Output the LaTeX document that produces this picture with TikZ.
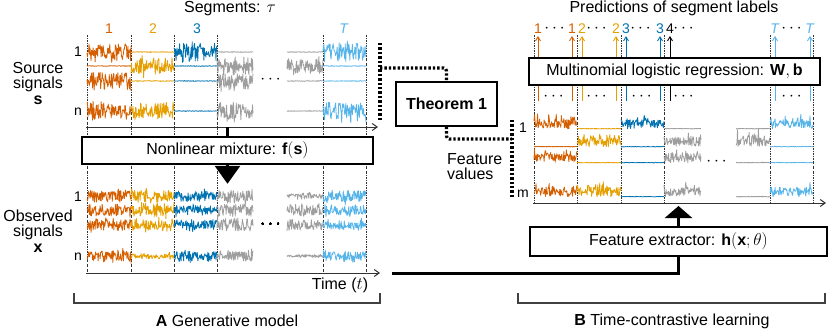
\documentclass[tikz,border=0pt]{standalone}
\usepackage{amsmath,amssymb}
\usepackage{fontspec}
\setmainfont{Liberation Sans}
\usetikzlibrary{arrows.meta,calc,positioning}
\definecolor{segone}{RGB}{213,94,0}
\definecolor{segtwo}{RGB}{230,159,0}
\definecolor{segthree}{RGB}{0,114,178}
\definecolor{seggray}{RGB}{158,158,158}
\definecolor{segT}{RGB}{86,180,233}

% noisy trace: x0, x1, y, amplitude, colour
\newcommand\trace[5]{%
  \pgfmathtruncatemacro\ns{2*(#2-#1)}%
  \draw[#5, line width=0.8pt, line join=round]
    plot[domain=#1:#2, samples=\ns] (\x, {#3 + #4*(0.5*rand + 0.5*rand*rand*rand)});
}
% one-sided feature trace: x0, x1, baseline, amplitude, colour
\newcommand\feat[5]{%
  \pgfmathtruncatemacro\ns{2*(#2-#1)}%
  \draw[#5, line width=0.8pt, line join=round]
    plot[domain=#1:#2, samples=\ns] (\x, {#3 - #4*(0.45*abs(rand) + 0.55*abs(rand*rand*rand))});
}

\begin{document}
\begin{tikzpicture}[x=1pt, y=-1pt,
  every node/.style={font=\fontsize{16}{18}\selectfont, inner sep=0pt},
  small/.style={font=\fontsize{14}{16}\selectfont},
  seglbl/.style={font=\fontsize{14}{16}\selectfont},
  box/.style={draw, line width=1.6pt, fill=white, minimum width=#1, minimum height=27pt},
  segline/.style={black!80, line width=0.5pt, dash pattern=on 2pt off 1.2pt on 0.5pt off 1.2pt},
  axis/.style={black!80, line width=1pt, -{Straight Barb[length=5pt,width=7pt]}},
  fat/.style={line width=3pt},
  thmlink/.style={line width=3.2pt, dash pattern=on 2.4pt off 2pt},
  bracket/.style={black!75, line width=1.4pt},
  upar/.style={line width=0.9pt, -{Straight Barb[length=4pt,width=5pt]}}]
  \useasboundingbox (0,0) rectangle (830,329);
  \pgfmathsetseed{11}

  % ---------- A: generative model ----------
  \foreach \xs in {87,131,174,217,323,366}
    \draw[segline] (\xs,35) -- (\xs,273);

  \node (segtitle) at (230,9) {Segments: $\tau$};
  \node[seglbl, text=segone] (sa) at (109,29) {1};
  \node[seglbl, text=segtwo] (sb) at (153,29) {2};
  \node[seglbl, text=segthree] (sc) at (197,29) {3};
  \node[seglbl, text=segT] (sT) at (344,29) {\textit{T}};

  \node[align=center, font=\fontsize{16}{15}\selectfont] (srclbl) at (38,83) {Source\\signals\\[1pt]$\mathbf{s}$};
  \node[align=center, font=\fontsize{16}{15}\selectfont] (obslbl) at (38,231) {Observed\\signals\\[1pt]$\mathbf{x}$};
  \node[small] (srcone) at (78,52) {1};
  \node[small] (srcn) at (78,112) {n};
  \node[small] (obsone) at (78,197) {1};
  \node[small] (obsn) at (78,257) {n};

  % source signals
  \foreach \xa/\xb/\col/\fa/\fb/\fc/\fd in {87/131/segone/1/0/1/1, 131/174/segtwo/0/1/0/1,
      174/217/segthree/1/0/0/0, 217/253/seggray/0/1/1/1, 287/323/seggray/0/1/0/0, 323/366/segT/1/0/0/1}
    \foreach \yy/\ff in {52/\fa, 66/\fb, 81/\fc, 111/\fd} {
      \pgfmathsetmacro\amp{0.7 + 16*\ff}
      \trace{\xa}{\xb}{\yy}{\amp}{\col}
    }
  \node (srcdots) at (272,80) {$\cdots$};
  \draw[axis] (86,127) -- (378,127);

  % observed signals
  \foreach \xa/\xb/\col/\fa/\fb/\fc/\fd in {87/131/segone/12/12/12/11, 131/174/segtwo/12/12/12/5,
      174/217/segthree/10/10/10/10, 217/253/seggray/12/12/12/10, 287/323/seggray/6/11/11/3, 323/366/segT/11/10/10/10}
    \foreach \yy/\ff in {196/\fa, 210/\fb, 225/\fc, 256/\fd}
      \trace{\xa}{\xb}{\yy}{\ff}{\col}
  \node (obsdots) at (272,225) {$\cdots$};
  \draw[axis] (86,273) -- (380,273);
  \node (time) at (340,285) {Time ($t$)};

  \node[box=291pt] (mix) at (227.5,150.5) {Nonlinear mixture: $\mathbf{f}(\mathbf{s})$};
  \draw[fat] (mix.north |- 0,127) -- (mix.north);
  \draw[fat, -{Triangle[length=18pt,width=25pt]}] (mix.south) -- ++(0,19);

  \draw[bracket] (74,293) |- (380,303) -- (380,293);
  \node (capA) at (227,321) {\textbf{A} Generative model};

  % ---------- Theorem 1 ----------
  \node[draw, line width=1.6pt, minimum width=101pt, minimum height=44pt] (thm) at (446.5,104) {\textbf{Theorem 1}};
  \coordinate (srcbarTop) at (380,43);
  \coordinate (srcbarBot) at (380,120);
  \coordinate (featbarTop) at (512,120);
  \coordinate (featbarBot) at (512,197);
  \draw[thmlink] (srcbarTop) -- (srcbarBot);
  \draw[thmlink, rounded corners=3pt] (srcbarTop |- 0,68) -| (thm.north);
  \draw[thmlink] (featbarTop) -- (featbarBot);
  \draw[thmlink, rounded corners=3pt] (thm.south) |- (featbarTop |- 0,139);
  \node[align=left, anchor=west, font=\fontsize{16}{15}\selectfont] (featlbl) at (447,167) {Feature\\values};

  % ---------- B: time-contrastive learning ----------
  \foreach \xs in {534,577,621,664,770,813}
    \draw[segline] (\xs,35) -- (\xs,203);

  \node (predtitle) at (674,8) {Predictions of segment labels};
  \node[seglbl, text=segone] (pa) at (538,29) {1};
  \node (pdotsa) at (556,29) {$\cdots$};
  \node[seglbl, text=segone] (pb) at (572,29) {1};
  \node[seglbl, text=segtwo] (pc) at (582,29) {2};
  \node (pdotsb) at (598,29) {$\cdots$};
  \node[seglbl, text=segtwo] (pd) at (616,29) {2};
  \node[seglbl, text=segthree] (pe) at (626,29) {3};
  \node (pdotsc) at (642,29) {$\cdots$};
  \node[seglbl, text=segthree] (pf) at (660,29) {3};
  \node[seglbl] (pg) at (670,29) {4};
  \node (pdotsd) at (685,29) {$\cdots$};
  \node[seglbl, text=segT] (ph) at (775,29) {\textit{T}};
  \node (pdotse) at (793,29) {$\cdots$};
  \node[seglbl, text=segT] (pi) at (810,29) {\textit{T}};

  \foreach \p/\col in {pa/segone, pb/segone, pc/segtwo, pd/segtwo, pe/segthree, pf/segthree,
      pg/black, ph/segT, pi/segT}
    \draw[upar, \col] (\p.south |- 0,101) -- ([yshift=-2pt]\p.south);
  \foreach \xd in {555,598,643,685,793}
    \node at (\xd,97) {$\cdots$};

  \node[box=291pt] (mlr) at (674.5,71.5) {Multinomial logistic regression: $\mathbf{W},\mathbf{b}$};

  % feature values
  \node[small] (featone) at (523,128) {1};
  \node[small] (featm) at (523,194) {m};
  \foreach \xa/\xb/\col/\fa/\fb/\fc/\fd in {534/577/segone/1/0/1/1, 577/621/segtwo/0/1/0/1,
      621/664/segthree/1/0/0/0, 664/701/seggray/0/1/1/1, 736/770/seggray/0/1/0/0, 770/813/segT/1/0/0/1}
    \foreach \yy/\ff in {129/\fa, 147/\fb, 163/\fc, 197/\fd} {
      \pgfmathsetmacro\amp{1.2 + 19*\ff}
      \feat{\xa}{\xb}{\yy}{\amp}{\col}
    }
  \node (featdots) at (718,162) {$\cdots$};
  \draw[axis] (533,203) -- (826,203);

  \node[box=297pt, minimum height=29pt] (fex) at (678.5,241.5) {Feature extractor: $\mathbf{h}(\mathbf{x};\theta)$};
  \draw[fat] (392,273) -| (fex.south);
  \draw[fat, -{Triangle[length=12pt,width=27pt]}] (fex.north) -- (fex.north |- 0,206);

  \draw[bracket] (518,293) |- (825,303) -- (825,293);
  \node (capB) at (672,321) {\textbf{B} Time-contrastive learning};
\end{tikzpicture}
\end{document}
